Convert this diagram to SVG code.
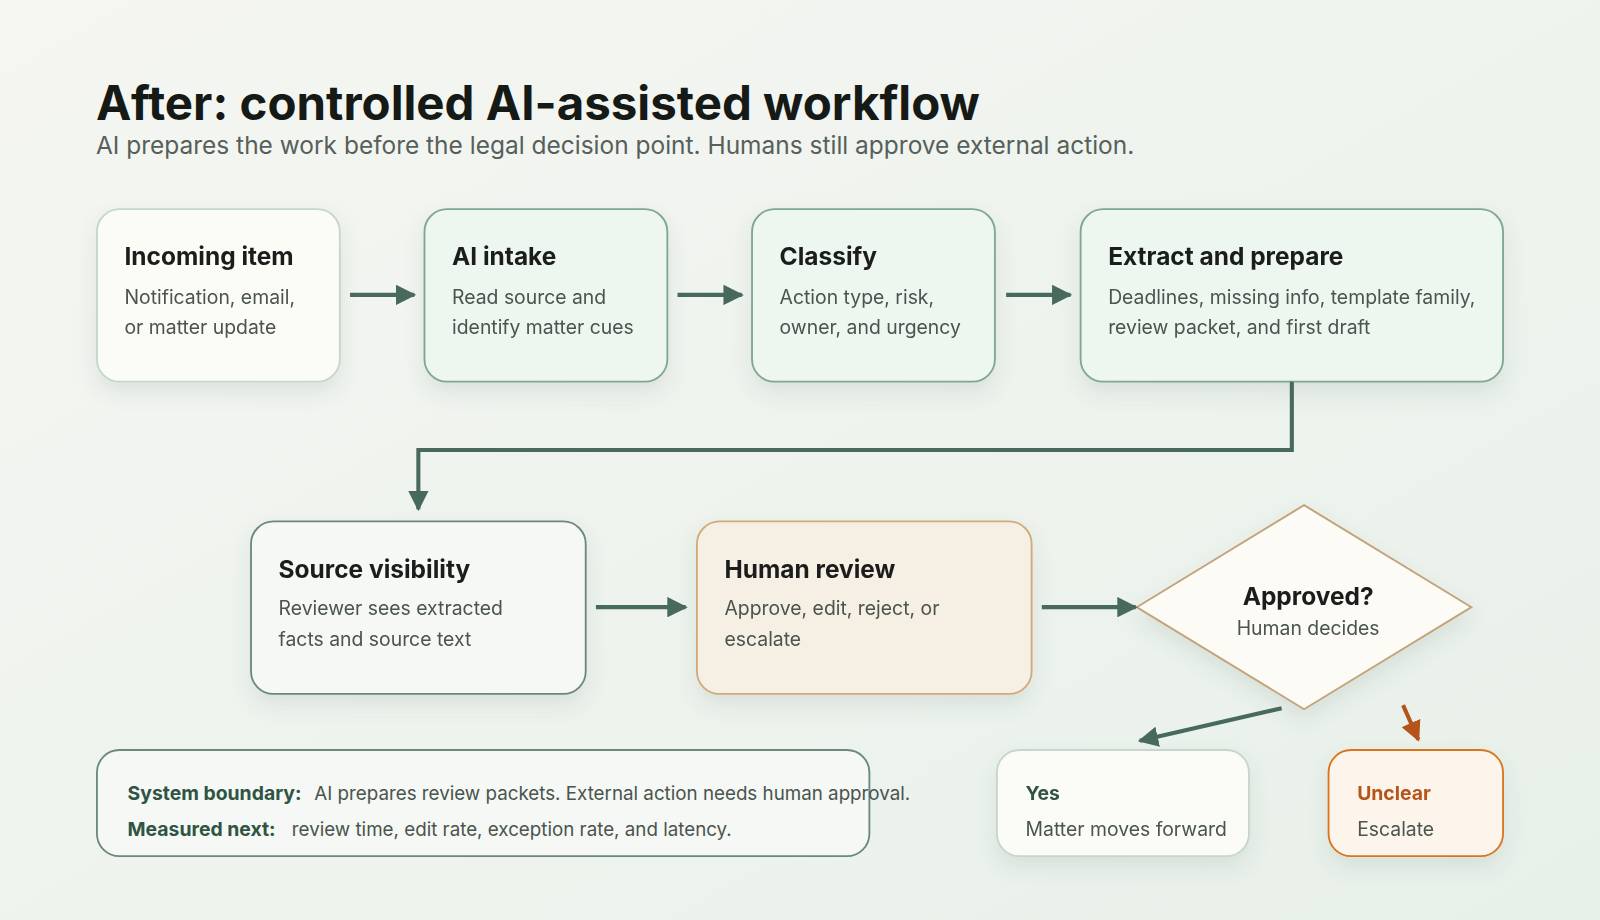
<svg xmlns="http://www.w3.org/2000/svg" width="1600" height="920" viewBox="0 0 1600 920">
<defs>
<linearGradient id="bg" x1="0" y1="0" x2="1" y2="1"><stop offset="0" stop-color="#f5f6f2"/><stop offset="1" stop-color="#e8f0ea"/></linearGradient>
<filter id="sh" x="-20%" y="-20%" width="140%" height="160%"><feDropShadow dx="0" dy="10" stdDeviation="10" flood-color="#4a6a5a" flood-opacity="0.12"/></filter>
<marker id="ag" viewBox="0 0 10 10" refX="9" refY="5" markerWidth="5" markerHeight="5" orient="auto"><path d="M0,0 L10,5 L0,10 z" fill="#476a5c"/></marker>
<marker id="ao" viewBox="0 0 10 10" refX="9" refY="5" markerWidth="5" markerHeight="5" orient="auto"><path d="M0,0 L10,5 L0,10 z" fill="#b5541a"/></marker>
<style>
text{font-family:Inter,"Noto Sans",sans-serif}
.t{font-size:24px;font-weight:700;fill:#1b1f1c}
.b{font-size:19px;fill:#4a544e}
.g{fill:#edf6ef;stroke:#7ea88f;stroke-width:1.8}
.c{stroke:#476a5c;stroke-width:4;fill:none;marker-end:url(#ag)}
</style>
</defs>
<rect width="1600" height="920" fill="url(#bg)"/>
<g transform="scale(1.0204)">
<text x="94" y="118" font-size="46.5" font-weight="700" fill="#161a17">After: controlled AI-assisted workflow</text>
<text x="94" y="151" font-size="24" fill="#56605a">AI prepares the work before the legal decision point. Humans still approve external action.</text>
<g id="n1" filter="url(#sh)"><rect x="95" y="205" width="238" height="169" rx="22" fill="#fcfcf7" stroke="#c6d6cb" stroke-width="1.8"/><text class="t" x="122" y="260">Incoming item</text><text class="b" x="122" y="298">Notification, email,</text><text class="b" x="122" y="327">or matter update</text></g>
<g id="n2" filter="url(#sh)"><rect class="g" x="416" y="205" width="238" height="169" rx="22"/><text class="t" x="443" y="260">AI intake</text><text class="b" x="443" y="298">Read source and</text><text class="b" x="443" y="327">identify matter cues</text></g>
<g id="n3" filter="url(#sh)"><rect class="g" x="737" y="205" width="238" height="169" rx="22"/><text class="t" x="764" y="260">Classify</text><text class="b" x="764" y="298">Action type, risk,</text><text class="b" x="764" y="327">owner, and urgency</text></g>
<g id="n4" filter="url(#sh)"><rect class="g" x="1059" y="205" width="414" height="169" rx="22"/><text class="t" x="1086" y="260">Extract and prepare</text><text class="b" x="1086" y="298">Deadlines, missing info, template family,</text><text class="b" x="1086" y="327">review packet, and first draft</text></g>
<g id="n5" filter="url(#sh)"><rect x="246" y="511" width="328" height="169" rx="22" fill="#f5f8f4" stroke="#6b897a" stroke-width="1.8"/><text class="t" x="273" y="566">Source visibility</text><text class="b" x="273" y="603">Reviewer sees extracted</text><text class="b" x="273" y="633">facts and source text</text></g>
<g id="n6" filter="url(#sh)"><rect x="683" y="511" width="328" height="169" rx="22" fill="#f6efe3" stroke="#d4a97a" stroke-width="1.8"/><text class="t" x="710" y="566">Human review</text><text class="b" x="710" y="603">Approve, edit, reject, or</text><text class="b" x="710" y="633">escalate</text></g>
<g id="n7" filter="url(#sh)"><polygon points="1278,495 1442,595 1278,695 1114,595" fill="#fcfbf5" stroke="#c4a37a" stroke-width="1.8"/><text class="t" x="1282" y="593" text-anchor="middle">Approved?</text><text class="b" x="1282" y="622" text-anchor="middle">Human decides</text></g>
<g id="n8"><rect x="95" y="735" width="757" height="104" rx="22" fill="#f5f8f4" stroke="#6b897a" stroke-width="1.8"/><text x="125" y="784" font-size="19" font-weight="700" fill="#2f5443">System boundary:</text><text x="308" y="784" font-size="18.4" fill="#4a544e">AI prepares review packets. External action needs human approval.</text><text x="125" y="819" font-size="19" font-weight="700" fill="#2f5443">Measured next:</text><text x="286" y="819" font-size="18.4" fill="#4a544e">review time, edit rate, exception rate, and latency.</text></g>
<g id="n9" filter="url(#sh)"><rect x="977" y="735" width="247" height="104" rx="22" fill="#fcfcf7" stroke="#c6d6cb" stroke-width="1.8"/><text x="1005" y="784" font-size="19" font-weight="700" fill="#2f5443">Yes</text><text class="b" x="1005" y="819">Matter moves forward</text></g>
<g id="n10" filter="url(#sh)"><rect x="1302" y="735" width="171" height="104" rx="22" fill="#fdf5ec" stroke="#d9761f" stroke-width="1.8"/><text x="1330" y="784" font-size="19" font-weight="700" fill="#b5541a">Unclear</text><text class="b" x="1330" y="819">Escalate</text></g>
<g id="connectors">
<line class="c" x1="343" y1="289" x2="406" y2="289"/>
<line class="c" x1="664" y1="289" x2="727" y2="289"/>
<line class="c" x1="986" y1="289" x2="1049" y2="289"/>
<polyline class="c" points="1266,374 1266,441 410,441 410,499"/>
<line class="c" x1="584" y1="595" x2="672" y2="595"/>
<line class="c" x1="1021" y1="595" x2="1113" y2="595"/>
<line class="c" x1="1256" y1="694" x2="1117" y2="726"/>
<line x1="1375" y1="691" x2="1390" y2="725" stroke="#b5541a" stroke-width="4" marker-end="url(#ao)"/>
</g>
</g>
</svg>
